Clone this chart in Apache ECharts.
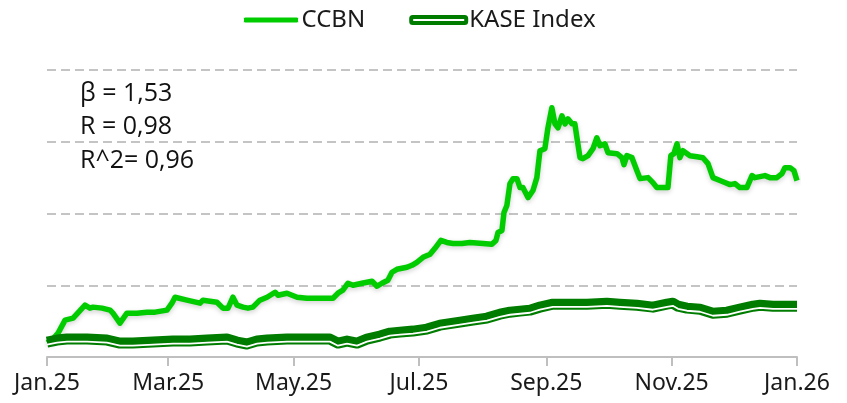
<!DOCTYPE html>
<html>
<head>
<meta charset="utf-8">
<script src="https://cdn.jsdelivr.net/npm/echarts@6/dist/echarts.min.js"></script>
<style>
  html, body { margin: 0; padding: 0; background: #fff; }
  #chart { width: 847px; height: 403px; }
</style>
</head>
<body>
<div id="chart"></div>
<script>
// x = days since 1 Jan 2025, y = rebased index (start ~100)
var ccbnDays = [0, 2.4, 5.4, 8.8, 12.7, 18.5, 20.9, 22.4, 26.8, 30.7, 32.1, 35.5, 38.9, 43.8, 48.7, 52.6,
  58.4, 60.8, 62.3, 68.1, 74.5, 75.9, 82.7, 85.6, 88.1, 90.5, 92.5, 95.4, 97.8, 100.2, 103.6, 107.1,
  111, 112.4, 116.8, 121.7, 126.5, 132.8, 139.2, 141.6, 144, 146.5, 148.9, 153.3, 158.2, 160.6, 163,
  165.9, 167.9, 170.3, 175.2, 177.6, 180, 183, 186.4, 188.8, 191.7, 194.6, 197.6, 201.9, 205.8, 212.2,
  216.5, 218.5, 219.5, 221.4, 222.4, 223.8, 225.3, 226.8, 228.7, 230.2, 231.6, 234.1, 236.5, 238.4,
  239.9, 242.3, 243.8, 245.7, 247.2, 248.7, 250.6, 252.1, 253.5, 255.5, 256.9, 257.9, 259.4, 260.8,
  263.3, 265.7, 267.6, 269.1, 271.5, 273, 277.4, 279.8, 280.8, 282.2, 284.7, 287.1, 288.6, 292.5,
  294.9, 296.8, 300.7, 302.2, 303.6, 305.1, 306.6, 308, 309.5, 312.9, 316.3, 319.2, 321.7, 324.1,
  327.5, 329.9, 332.4, 334.8, 337.2, 340.6, 343.1, 344.5, 347, 349.4, 351.8, 355.2, 357.7, 359.1,
  361.6, 363.5, 365];
var ccbnValues = [100, 103.6, 113.3, 131.4, 134.2, 152.2, 148.1, 149.5, 148.1, 145.3, 141.1, 127.2, 141.1, 141.1, 142.5, 142.5,
  145.3, 155, 163.3, 159.2, 155, 159.2, 156.4, 148.1, 148.1, 163.3, 152.2, 149.5, 148.1, 149.5, 159.2, 163.3,
  170.3, 166.1, 168.9, 163.3, 161.9, 161.9, 161.9, 168.9, 173.1, 182.8, 180, 182.8, 185.6, 178.6, 182.8,
  187, 198.1, 202.2, 205, 207.8, 212, 218.9, 223.1, 231.4, 242.5, 239.7, 238.3, 238.3, 239.7, 238.3,
  237, 242.5, 253.6, 256.4, 281.4, 291.1, 321.7, 328.6, 328.6, 316.1, 316.1, 302.2, 312, 330,
  367.5, 370.3, 399.5, 427.3, 405, 399.5, 416.1, 405, 412, 405, 405, 385.6, 357.8, 356.4,
  360.6, 370.3, 385.6, 374.5, 377.2, 364.7, 363.4, 357.8, 348.1, 360.6, 357.8, 339.7, 328.6, 330,
  323.1, 316.1, 316.1, 316.1, 360.6, 363.4, 377.2, 357.8, 367.5, 360.6, 359.2, 357.8, 349.5, 330,
  325.9, 323.1, 320.3, 321.7, 316.1, 316.1, 332.8, 330, 331.4, 332.8, 330, 330, 335.6, 343.9,
  343.9, 339.7, 325.9];

var kaseDays = [0, 4.9, 9.7, 19.5, 29.2, 35.5, 41.8, 51.6, 61.3, 69.6, 77.9, 87.6, 92.5, 97.3, 102.2,
  107.1, 116.8, 123.1, 129.4, 137.7, 141.6, 146, 150.9, 155.7, 162, 166.9, 171.8, 178.1, 184.9,
  191.2, 201, 207.3, 214.1, 220.4, 225.3, 230.2, 235, 239.9, 246.2, 254.5, 262.8, 272.5, 278.8,
  287.1, 294.9, 301.7, 304.6, 307.1, 311.4, 317.8, 324.1, 330.9, 337.2, 343.6, 347, 353.3, 360.1, 365];
var kaseValues = [100.8, 103.6, 105, 105, 103.6, 99.4, 99.4, 100.8, 102.2, 102.2, 103.6, 105, 100.8, 98.1, 102.2,
  103.6, 105, 105, 105, 105, 99.4, 102.2, 99.4, 105, 109.2, 113.3, 114.7, 116.1, 118.9,
  124.4, 128.6, 131.4, 134.2, 139.7, 142.5, 143.9, 145.3, 149.5, 153.6, 153.6, 153.6, 155, 153.6,
  152.2, 149.5, 153.6, 155, 150.8, 148.1, 146.7, 141.1, 142.5, 146.7, 150.8, 152.2, 150.8, 150.8, 150.8];

var tickDays = [0, 59, 120, 181, 243, 304, 365];
var tickLabels = ['Jan.25', 'Mar.25', 'May.25', 'Jul.25', 'Sep.25', 'Nov.25', 'Jan.26'];
var statsLines = ['β = 1,53', 'R = 0,98', 'R^2= 0,96'];

function pairs(xs, ys) {
    var res = [];
    for (var i = 0; i < xs.length; i++) {
        res.push([xs[i], ys[i]]);
    }
    return res;
}

var myChart = echarts.init(document.getElementById('chart'));
var kaseData = pairs(kaseDays, kaseValues);

var option = {
    backgroundColor: '#fff',
    animation: false,
    textStyle: { fontFamily: 'Noto Sans' },
    legend: {
        top: 3,
        left: 238,
        itemWidth: 55,
        itemHeight: 6,
        itemGap: 44,
        textStyle: { fontSize: 24, color: '#1a1a1a', fontFamily: 'Noto Sans', padding: [0, 0, 0, -2] },
        data: [
            { name: 'CCBN', icon: 'roundRect', itemStyle: { color: '#00cc00', borderColor: '#fff', borderWidth: 1 } },
            { name: 'KASE Index', icon: 'roundRect', itemStyle: { color: '#ffffff', borderColor: '#007d00', borderWidth: 4 } }
        ]
    },
    grid: { left: 47, right: 50, top: 70, bottom: 46 },
    xAxis: {
        type: 'value',
        min: 0,
        max: 365,
        axisLine: { show: true, lineStyle: { color: '#bfbfbf', width: 2 } },
        axisTick: {
            show: true,
            customValues: tickDays,
            length: 9,
            lineStyle: { color: '#bfbfbf', width: 2 }
        },
        axisLabel: {
            customValues: tickDays,
            margin: 15,
            fontSize: 23,
            color: '#1a1a1a',
            fontFamily: 'Noto Sans',
            formatter: function (v) {
                var i = tickDays.indexOf(v);
                return i >= 0 ? tickLabels[i] : '';
            }
        },
        splitLine: { show: false }
    },
    yAxis: {
        type: 'value',
        min: 80,
        max: 480,
        interval: 100,
        axisLine: { show: false },
        axisTick: { show: false },
        axisLabel: { show: false },
        splitLine: { lineStyle: { color: '#c4c4c4', width: 2, type: [9, 5] } }
    },
    graphic: [
        { type: 'text', left: 80, top: 81, style: { text: statsLines[0], font: '25px "Open Sans"', fill: '#111' } },
        { type: 'text', left: 80, top: 114, style: { text: statsLines[1], font: '25px "Open Sans"', fill: '#111' } },
        { type: 'text', left: 80, top: 148, style: { text: statsLines[2], font: '25px "Open Sans"', fill: '#111' } }
    ],
    series: [
        {
            name: 'CCBN',
            type: 'line',
            data: pairs(ccbnDays, ccbnValues),
            showSymbol: false,
            symbol: 'none',
            z: 2,
            lineStyle: {
                color: '#00cc00',
                width: 5.5,
                join: 'round',
                shadowColor: 'rgba(0,0,0,0.18)',
                shadowBlur: 5,
                shadowOffsetY: 2
            },
            itemStyle: { color: '#00cc00' }
        },
        {
            name: 'KASE Index',
            type: 'line',
            data: kaseData,
            showSymbol: false,
            symbol: 'none',
            z: 3,
            lineStyle: { color: '#007d00', width: 11, join: 'round' },
            itemStyle: { color: '#007d00' }
        },
        {
            // thin white stripe of the compound KASE line
            name: 'KASE stripe',
            type: 'line',
            data: kaseData,
            showSymbol: false,
            symbol: 'none',
            z: 4,
            lineStyle: {
                color: '#007d00',
                width: 1.8,
                join: 'round',
                shadowColor: '#ffffff',
                shadowBlur: 0,
                shadowOffsetY: 2.6
            }
        }
    ]
};
myChart.setOption(option);
window.addEventListener('resize', function () {
    myChart.resize();
});
</script>
</body>
</html>
